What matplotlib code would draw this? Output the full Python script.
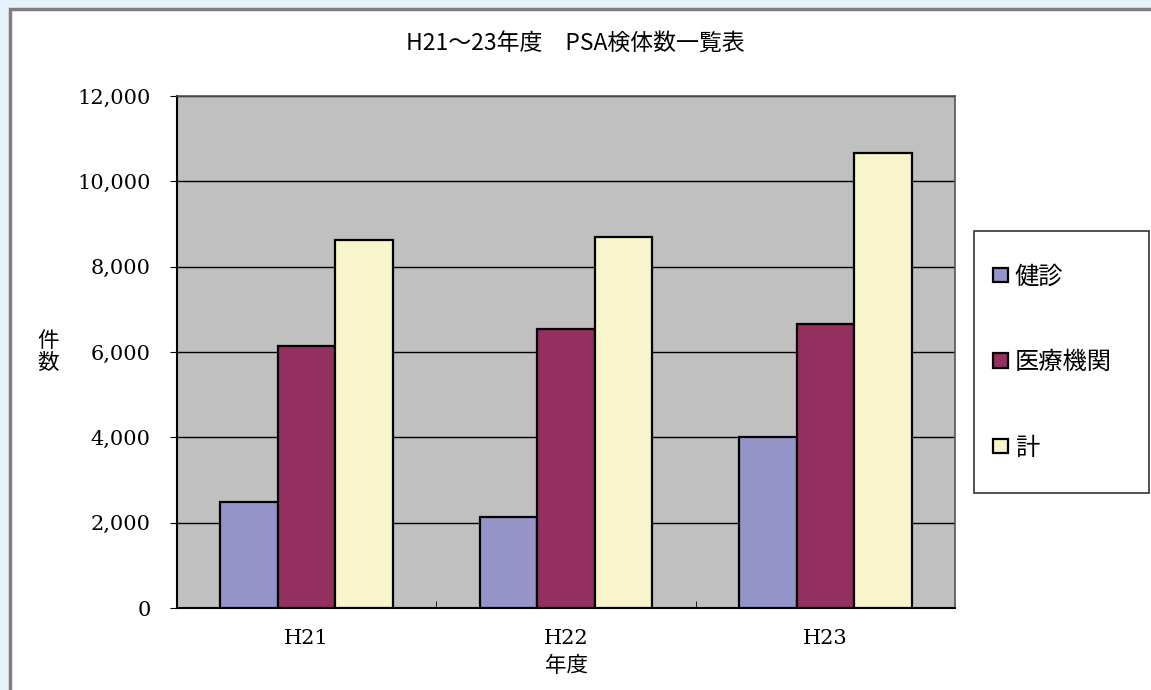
import matplotlib
matplotlib.use("Agg")
import matplotlib.pyplot as plt
import numpy as np
from matplotlib.patches import Rectangle
from matplotlib.ticker import FuncFormatter

plt.rcParams['font.family'] = ['Noto Sans CJK JP', 'DejaVu Sans']

# PSA検体数 (件)
years = ["H21", "H22", "H23"]
kenshin = [2490, 2140, 4000]
iryo = [6130, 6550, 6660]
total = [8620, 8690, 10660]
series_names = ["健診", "医療機関", "計"]
colors = ["#9494C8", "#933060", "#F8F5CC"]

W, H = 1151, 690
fig = plt.figure(figsize=(W / 100, H / 100), dpi=100)
fig.patch.set_facecolor("#E6F3FA")


def fbox(x0, y0, x1, y1, **kw):
    # rectangle given in pixel coords from the top-left corner
    return Rectangle((x0 / W, 1 - y1 / H), (x1 - x0) / W, (y1 - y0) / H,
                     transform=fig.transFigure, **kw)


# white chart area with a gray frame on the top/left
fig.patches.append(fbox(10, 9, W + 20, H + 20, facecolor="white",
                        edgecolor="#7F7F7F", linewidth=2.5, zorder=-5))
# legend frame
fig.patches.append(fbox(974, 231, 1149, 493, facecolor="white",
                        edgecolor="#333333", linewidth=1.2, zorder=-4))

ax = fig.add_axes([177 / W, 1 - 608 / H, (955 - 177) / W, (608 - 96) / H])
ax.set_zorder(2)
ax.set_facecolor("#C0C0C0")

x = np.arange(len(years))
w = 1 / 4.5
for i, (vals, name, c) in enumerate(zip([kenshin, iryo, total], series_names, colors)):
    ax.bar(x + (i - 1) * w, vals, w, color=c, edgecolor="black",
           linewidth=1.6, label=name, zorder=3)

ax.set_xlim(-0.5, 2.5)
ax.set_ylim(0, 12000)
ax.set_yticks(np.arange(0, 12001, 2000))
ax.yaxis.set_major_formatter(FuncFormatter(lambda v, p: f"{int(v):,}"))
ax.grid(axis="y", color="black", linewidth=1, zorder=1)
ax.set_xticks(x)
ax.set_xticklabels(years)
ax.set_xticks([0.5, 1.5], minor=True)
ax.tick_params(axis="x", which="major", length=0, pad=15)
ax.tick_params(axis="x", which="minor", length=5, direction="in", color="black")
ax.tick_params(axis="y", length=5, pad=14)
for lbl in ax.get_yticklabels() + ax.get_xticklabels():
    lbl.set_fontfamily(["DejaVu Serif"])
    lbl.set_fontsize(15)

for s in ["left", "bottom"]:
    ax.spines[s].set_color("black")
    ax.spines[s].set_linewidth(1.5)
for s in ["right", "top"]:
    ax.spines[s].set_color("#555555")
    ax.spines[s].set_linewidth(1.2)

fig.text(575 / W, 1 - 43 / H, "H21～23年度　PSA検体数一覧表",
         ha="center", va="center", fontsize=16.5)
fig.text(48 / W, 1 - 352 / H, "件\n数", ha="center", va="center",
         fontsize=15.5, linespacing=1.0)
fig.text(566 / W, 1 - 666 / H, "年度", ha="center", va="center", fontsize=15.5)

fig.legend(loc="center left", bbox_to_anchor=(993 / W, 1 - 362 / H),
           frameon=False, fontsize=17.5, labelspacing=2.45,
           handlelength=0.6, handleheight=0.55, handletextpad=0.3,
           borderpad=0, borderaxespad=0)

fig.savefig("out.png", dpi=100)
